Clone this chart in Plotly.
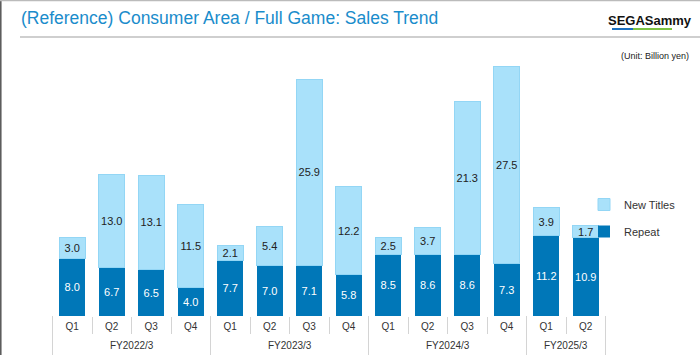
import plotly.graph_objects as go

fiscal_years = ["FY2022/3"] * 4 + ["FY2023/3"] * 4 + ["FY2024/3"] * 4 + ["FY2025/3"] * 2
quarters = ["Q1", "Q2", "Q3", "Q4"] * 3 + ["Q1", "Q2"]
repeat = [8.0, 6.7, 6.5, 4.0, 7.7, 7.0, 7.1, 5.8, 8.5, 8.6, 8.6, 7.3, 11.2, 10.9]
new_titles = [3.0, 13.0, 13.1, 11.5, 2.1, 5.4, 25.9, 12.2, 2.5, 3.7, 21.3, 27.5, 3.9, 1.7]

DARK = "#0077b8"
LIGHT = "#a9e1fa"
GRID = "#d4d4d4"
FONT = "Liberation Sans, Arial, sans-serif"

cats = [f"{fy} {q}" for fy, q in zip(fiscal_years, quarters)]

fig = go.Figure()
fig.add_trace(go.Bar(
    x=cats, y=repeat, name="Repeat",
    marker=dict(color=DARK, line=dict(width=0)),
    text=[f"{v:.1f}" for v in repeat], textposition="inside",
    insidetextanchor="middle", textangle=0,
    textfont=dict(color="white", size=11, family=FONT),
    legendrank=2, legendgroup="r",
))
fig.add_trace(go.Bar(
    x=cats, y=new_titles, name="New Titles",
    marker=dict(color=LIGHT, line=dict(width=1, color="#93d6f5")),
    text=[f"{v:.1f}" for v in new_titles], textposition="inside",
    insidetextanchor="middle", textangle=0,
    textfont=dict(color="#222222", size=11, family=FONT),
    legendrank=1, legendgroup="n",
))

fig.update_layout(
    width=700, height=355,
    barmode="stack", bargap=0.35,
    paper_bgcolor="white", plot_bgcolor="white",
    margin=dict(l=52, r=94, t=60, b=39, autoexpand=False),
    font=dict(family=FONT, size=10, color="#333333"),
    uniformtext=dict(mode="show", minsize=11),
    showlegend=True,
    legend=dict(
        x=(584 - 52) / 554, xanchor="left", y=(316 - 190) / 256, yanchor="top",
        bgcolor="rgba(0,0,0,0)", traceorder="grouped", tracegroupgap=8,
        font=dict(size=11, color="#333333"),
    ),
    xaxis=dict(
        type="category", showgrid=False, showline=False, zeroline=False,
        tickvals=cats, ticktext=quarters,
        ticks="outside", tickson="boundaries", ticklen=17, tickcolor=GRID,
        tickfont=dict(size=10, color="#333333"), automargin=False,
        ticklabelstandoff=3, fixedrange=True,
    ),
    yaxis=dict(
        range=[0, 35.65], visible=False, showgrid=False, zeroline=False,
        fixedrange=True,
    ),
)

# Fiscal-year group labels and long dividers, derived from the categories
groups = []
for i, fy in enumerate(fiscal_years):
    if not groups or groups[-1][0] != fy:
        groups.append([fy, i, i])
    else:
        groups[-1][2] = i
for fy, start, end in groups:
    fig.add_annotation(
        xref="x", yref="paper", x=(start + end) / 2, y=(316 - 345) / 256,
        text=fy, showarrow=False, xanchor="center", yanchor="middle",
        font=dict(size=10, color="#333333"),
    )
    for b in (start - 0.5, end + 0.5):
        fig.add_shape(type="line", xref="x", yref="paper", x0=b, x1=b,
                      y0=0, y1=-39 / 256, line=dict(color=GRID, width=1))

# Title
fig.add_annotation(
    xref="paper", yref="paper", x=-52 / 554, y=1 + (60 - 18) / 256,
    xanchor="left", yanchor="middle", xshift=19,
    text="(Reference) Consumer Area / Full Game: Sales Trend",
    showarrow=False, font=dict(size=17.5, color="#1a8ccb"),
)
# Logo text
fig.add_annotation(
    xref="paper", yref="paper", x=1 + (650 - 606) / 554, y=1 + (60 - 20) / 256,
    xanchor="center", yanchor="middle",
    text="<b>SEGASammy</b>", showarrow=False,
    font=dict(size=13, color="#111111", family=FONT),
)
# Unit label
fig.add_annotation(
    xref="paper", yref="paper", x=1 + (691 - 606) / 554, y=1 + (60 - 56) / 256,
    xanchor="right", yanchor="middle",
    text="(Unit: Billion yen)", showarrow=False,
    font=dict(size=9, color="#222222"),
)

# decorative lines: separator under title, logo underline, frame
fig.add_shape(type="line", xref="paper", yref="paper",
              x0=-32 / 554, x1=(700 - 52) / 554, y0=1 + (60 - 37) / 256, y1=1 + (60 - 37) / 256,
              line=dict(color="#cfcfcf", width=2))
fig.add_shape(type="line", xref="paper", yref="paper",
              x0=(612 - 52) / 554, x1=(633 - 52) / 554, y0=1 + (60 - 29) / 256, y1=1 + (60 - 29) / 256,
              line=dict(color="#1a6fc0", width=2))
fig.add_shape(type="line", xref="paper", yref="paper",
              x0=(633 - 52) / 554, x1=(672 - 52) / 554, y0=1 + (60 - 29) / 256, y1=1 + (60 - 29) / 256,
              line=dict(color="#7cc242", width=2))
fig.add_shape(type="line", xref="paper", yref="paper",
              x0=(-51.2) / 554, x1=(-51.2) / 554, y0=-39 / 256, y1=1 + 60 / 256,
              line=dict(color="#555555", width=1.5))
fig.add_shape(type="line", xref="paper", yref="paper",
              x0=-52 / 554, x1=(700 - 52) / 554, y0=1 + 59.4 / 256, y1=1 + 59.4 / 256,
              line=dict(color="#bbbbbb", width=1.2))

fig.write_html(
    "out.html",
    config={"displayModeBar": False},
    post_script="document.body.style.margin='0';document.body.style.overflow='hidden';",
)
